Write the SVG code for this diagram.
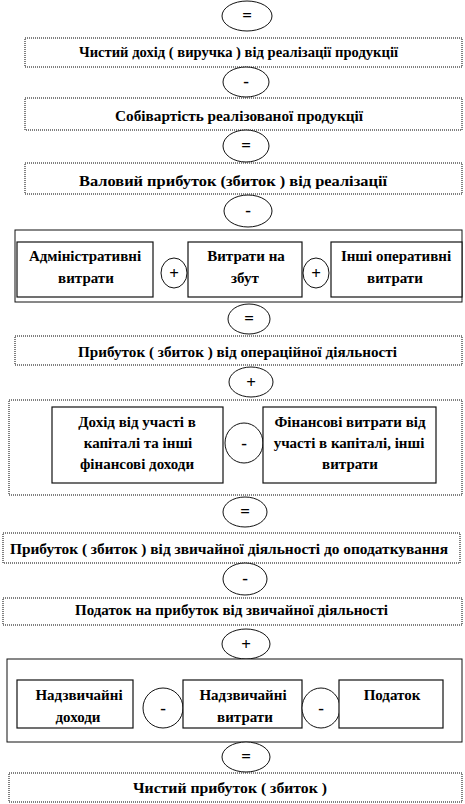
<svg xmlns="http://www.w3.org/2000/svg" width="465" height="804" viewBox="0 0 465 804" font-family="'Liberation Serif', 'Times New Roman', serif">
<style>
.wide{fill:#fff;stroke:#000;stroke-width:1;stroke-dasharray:1 1}
.frame{fill:#fff;stroke:#111;stroke-width:1}
.inner{fill:#fff;stroke:#111;stroke-width:1.2}
.op{fill:#fff;stroke:#111;stroke-width:1}
text{font-family:'Liberation Serif','Times New Roman',serif;font-weight:bold;font-size:15px;fill:#000;text-anchor:middle}
.sym{font-size:17px}
</style>
<rect width="465" height="804" fill="#fff"/>
<g id="op1"><ellipse class="op" cx="247" cy="16" rx="25" ry="15"/><text class="sym" x="247" y="21">=</text></g>
<g id="n1"><rect class="wide" x="25" y="38" width="437" height="29"/><text x="238.5" y="57" textLength="319" lengthAdjust="spacingAndGlyphs">Чистий дохід ( виручка ) від реалізації продукції</text></g>
<g id="op2"><ellipse class="op" cx="246" cy="82" rx="23" ry="15"/><text class="sym" x="246" y="87">-</text></g>
<g id="n2"><rect class="wide" x="25" y="98" width="437" height="32"/><text x="239" y="121" textLength="248" lengthAdjust="spacingAndGlyphs">Собівартість реалізованої продукції</text></g>
<g id="op3"><ellipse class="op" cx="246" cy="146" rx="23" ry="16"/><text class="sym" x="246" y="151">=</text></g>
<g id="n3"><rect class="wide" x="25" y="163" width="437" height="31"/><text x="233" y="186" textLength="308" lengthAdjust="spacingAndGlyphs">Валовий прибуток (збиток ) від реалізації</text></g>
<g id="op4"><ellipse class="op" cx="248" cy="211" rx="24" ry="16"/><text class="sym" x="248" y="216">-</text></g>
<g id="g1">
<rect class="frame" x="15" y="230" width="447" height="72"/>
<g id="n4"><rect class="inner" x="17" y="242" width="136" height="55"/><text x="85" y="261">Адміністративні</text><text x="86" y="283">витрати</text></g>
<g id="op5"><ellipse class="op" cx="174" cy="273" rx="13" ry="15"/><text class="sym" x="174" y="279">+</text></g>
<g id="n5"><rect class="inner" x="188" y="242" width="114" height="55"/><text x="246" y="261">Витрати на</text><text x="245" y="283">збут</text></g>
<g id="op6"><ellipse class="op" cx="316" cy="273" rx="13" ry="15"/><text class="sym" x="316" y="279">+</text></g>
<g id="n6"><rect class="inner" x="331" y="242" width="131" height="55"/><text x="396" y="261">Інші оперативні</text><text x="395" y="283">витрати</text></g>
</g>
<g id="op7"><ellipse class="op" cx="249" cy="319" rx="21" ry="15"/><text class="sym" x="249" y="324">=</text></g>
<g id="n7"><rect class="wide" x="15" y="336" width="447" height="29"/><text x="237.5" y="357" textLength="319" lengthAdjust="spacingAndGlyphs">Прибуток ( збиток ) від операційної діяльності</text></g>
<g id="op8"><ellipse class="op" cx="251" cy="382" rx="22" ry="15"/><text class="sym" x="251" y="388">+</text></g>
<g id="g2">
<rect class="wide" x="9" y="400" width="453" height="95"/>
<g id="n8"><rect class="inner" x="52" y="407" width="171" height="76"/><text x="137" y="427">Дохід  від участі в</text><text x="138" y="448">капіталі  та інші</text><text x="137" y="469">фінансові  доходи</text></g>
<g id="op9"><ellipse class="op" cx="244" cy="443" rx="19" ry="20"/><text class="sym" x="244" y="449">-</text></g>
<g id="n9"><rect class="inner" x="263" y="407" width="173" height="76"/><text x="350" y="427">Фінансові витрати від</text><text x="349" y="448">участі в капіталі, інші</text><text x="350" y="469">витрати</text></g>
</g>
<g id="op10"><ellipse class="op" cx="245" cy="512" rx="22" ry="15"/><text class="sym" x="245" y="517">=</text></g>
<g id="n10"><rect class="wide" x="3" y="533" width="457" height="30"/><text x="229" y="554" textLength="438" lengthAdjust="spacingAndGlyphs">Прибуток ( збиток ) від звичайної діяльності до оподаткування</text></g>
<g id="op11"><ellipse class="op" cx="245" cy="579" rx="22" ry="16"/><text class="sym" x="245" y="584">-</text></g>
<g id="n11"><rect class="wide" x="3" y="598" width="459" height="27"/><text x="231.5" y="615" textLength="313" lengthAdjust="spacingAndGlyphs">Податок на прибуток від звичайної діяльності</text></g>
<g id="op12"><ellipse class="op" cx="246" cy="644" rx="24" ry="15"/><text class="sym" x="246" y="650">+</text></g>
<g id="g3">
<rect class="frame" x="7" y="659" width="455" height="83"/>
<g id="n12"><rect class="inner" x="17" y="680" width="116" height="48"/><text x="79" y="700">Надзвичайні</text><text x="78" y="722">доходи</text></g>
<g id="op13"><ellipse class="op" cx="163" cy="708" rx="20" ry="20"/><text class="sym" x="163" y="714">-</text></g>
<g id="n13"><rect class="inner" x="183" y="680" width="119" height="48"/><text x="243" y="700">Надзвичайні</text><text x="245" y="722">витрати</text></g>
<g id="op14"><ellipse class="op" cx="321" cy="708" rx="19" ry="20"/><text class="sym" x="321" y="714">-</text></g>
<g id="n14"><rect class="inner" x="339" y="680" width="104" height="48"/><text x="392" y="700">Податок</text></g>
</g>
<g id="op15"><ellipse class="op" cx="246" cy="757" rx="24" ry="15"/><text class="sym" x="246" y="762">=</text></g>
<g id="n15"><rect class="wide" x="9" y="773" width="453" height="29"/><text x="230" y="793" textLength="194" lengthAdjust="spacingAndGlyphs">Чистий прибуток ( збиток )</text></g>
</svg>
